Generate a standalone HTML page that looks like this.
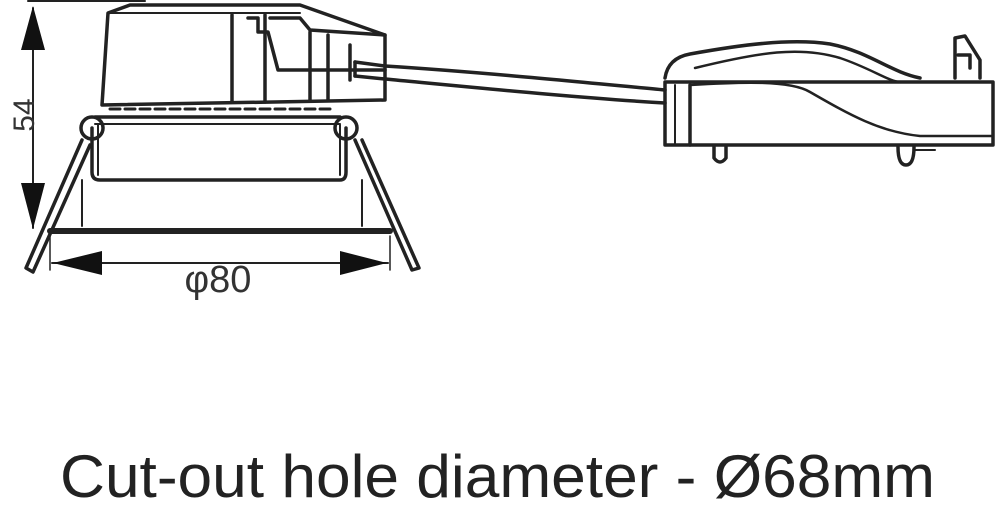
<!DOCTYPE html>
<html><head><meta charset="utf-8"><style>
html,body{margin:0;padding:0;background:#fff;}
svg{display:block;}
</style></head><body>
<svg width="1000" height="512" viewBox="0 0 1000 512" xmlns="http://www.w3.org/2000/svg">
<g fill="none" stroke="#222" stroke-width="3.5" stroke-linejoin="round" stroke-linecap="round">
  <line x1="28" y1="1" x2="145" y2="1" stroke-width="2"/>
  <line x1="33" y1="8" x2="33" y2="228" stroke-width="2"/>
  <path d="M108 13 L130 5 L300 5 L385 35 L385 100 L102 105 Z"/>
  <line x1="108" y1="13" x2="300" y2="13" stroke-width="2"/>
  <line x1="232" y1="15" x2="232" y2="102"/>
  <line x1="265" y1="15" x2="265" y2="102"/>
  <path d="M248 18 L258 18 L258 32 L268 32 L278 70 L385 70"/>
  <path d="M270 18 L300 18 L310 30 L385 35"/>
  <line x1="310" y1="32" x2="310" y2="100"/>
  <line x1="328" y1="35" x2="328" y2="100"/>
  <line x1="350" y1="45" x2="350" y2="80"/>
  <line x1="110" y1="109" x2="330" y2="109" stroke-dasharray="10 5" stroke-width="3"/>
  <path d="M95 117 L340 117"/>
  <path d="M95 124 L340 124" stroke-width="2"/>
  <path d="M92 128 L92 172 Q92 180 100 180 L340 180 Q346 180 346 172 L346 128"/>
  <circle cx="92" cy="128" r="11"/>
  <circle cx="346" cy="128" r="11"/>
  <line x1="98" y1="125" x2="98" y2="175" stroke-width="2"/>
  <line x1="340" y1="125" x2="340" y2="175" stroke-width="2"/>
  <line x1="82" y1="180" x2="82" y2="226" stroke-width="2"/>
  <line x1="362" y1="180" x2="362" y2="226" stroke-width="2"/>
  <line x1="50" y1="231" x2="390" y2="231" stroke-width="6"/>
  <path d="M82 140 L26 268 L33 272 L90 145"/>
  <path d="M355 140 L412 270 L419 268 L362 140"/>
  <line x1="50" y1="236" x2="50" y2="270" stroke-width="1.5"/>
  <line x1="390" y1="236" x2="390" y2="270" stroke-width="1.5"/>
  <line x1="52" y1="263" x2="388" y2="263" stroke-width="2"/>
  <path d="M355 62 L385 66 C480 72 580 82 665 90"/>
  <path d="M355 76 L385 79 C480 88 580 98 665 103"/>
  <line x1="355" y1="62" x2="355" y2="76"/>
  <path d="M665 82 L993 82 L993 145 L665 145 Z"/>
  <path d="M665 78 Q668 58 690 54 C740 45 790 38 830 44 C870 52 890 72 920 78"/>
  <path d="M695 68 C760 52 800 46 840 58 C870 68 890 82 900 82" stroke-width="2.5"/>
  <path d="M690 85 C740 82 790 80 810 92 C850 115 880 132 920 136 L993 136" stroke-width="2.5"/>
  <line x1="690" y1="85" x2="690" y2="145"/>
  <line x1="675" y1="85" x2="675" y2="145" stroke-width="2"/>
  <path d="M955 78 L955 38 L965 36 L980 60 L980 78"/>
  <path d="M958 55 L970 55 L970 68"/>
  <path d="M714 147 L714 158 Q720 166 726 158 L726 147"/>
  <path d="M898 147 Q898 165 906 165 Q914 165 914 147"/>
  <line x1="915" y1="150" x2="935" y2="150" stroke-width="2"/>
</g>
<g fill="#111">
  <polygon points="33,6 21,50 45,50"/>
  <polygon points="33,229 21,183 45,183"/>
  <polygon points="53,263 102,251 102,275"/>
  <polygon points="387,263 340,251 340,275"/>
</g>
<text x="0" y="0" transform="translate(34 115) rotate(-90)" text-anchor="middle" font-family="Liberation Sans, sans-serif" font-size="30" fill="#333">54</text>
<text x="218" y="292" text-anchor="middle" font-family="Liberation Sans, DejaVu Sans, sans-serif" font-size="38" fill="#333">φ80</text>
<text x="60" y="497" font-family="Liberation Sans, DejaVu Sans, sans-serif" font-size="60" fill="#222" textLength="875" lengthAdjust="spacingAndGlyphs">Cut-out hole diameter - Ø68mm</text>
</svg>
</body></html>
